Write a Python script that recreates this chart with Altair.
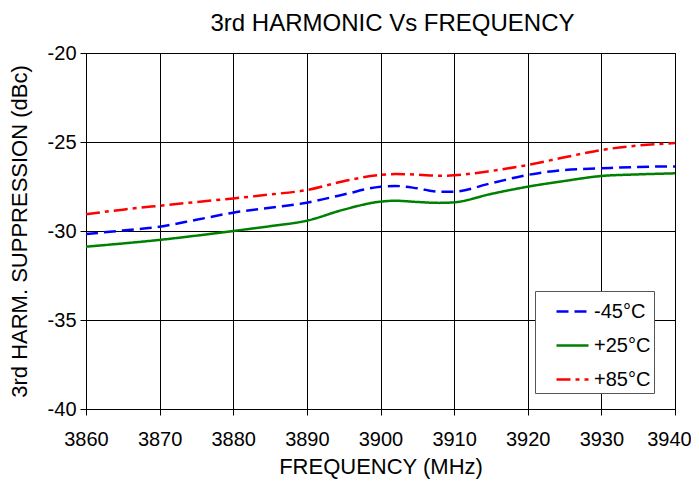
import altair as alt
import pandas as pd

freq = [3860, 3865, 3870, 3875, 3880, 3885, 3890, 3895, 3900, 3902, 3905, 3908, 3910, 3915, 3920, 3925, 3930, 3935, 3940]
m45 = [-30.17, -29.97, -29.76, -29.37, -28.97, -28.69, -28.41, -27.95, -27.51, -27.47, -27.6, -27.8, -27.79, -27.32, -26.85, -26.57, -26.48, -26.4, -26.37]
p25 = [-30.88, -30.7, -30.5, -30.26, -30.0, -29.73, -29.42, -28.8, -28.35, -28.3, -28.37, -28.42, -28.39, -27.92, -27.51, -27.19, -26.91, -26.82, -26.76]
p85 = [-29.06, -28.8, -28.58, -28.37, -28.17, -27.95, -27.7, -27.2, -26.85, -26.8, -26.83, -26.9, -26.87, -26.63, -26.29, -25.86, -25.45, -25.2, -25.06]
series = ["-45°C", "+25°C", "+85°C"]
colors = ["#0000FF", "#008000", "#FF0000"]
dashes = [[12, 6], [1, 0], [14, 5, 4, 5]]
x_ticks = [3860, 3870, 3880, 3890, 3900, 3910, 3920, 3930, 3940]
y_ticks = [-40, -35, -30, -25, -20]

rows = []
for name, vals in zip(series, [m45, p25, p85]):
    for f, v in zip(freq, vals):
        rows.append({"freq": f, "val": v, "temp": name})
df = pd.DataFrame(rows)

FONT = "Liberation Sans"

chart = alt.Chart(df).mark_line(strokeWidth=2.5, interpolate="monotone").encode(
    x=alt.X("freq:Q", scale=alt.Scale(domain=[3860, 3940], nice=False, zero=False),
            axis=alt.Axis(values=x_ticks, title="FREQUENCY (MHz)", format="d",
                          labelFlush=False, labelOverlap=False,
                          labelOffset=alt.ExprRef("datum.value == 3940 ? -6 : 0"),
                          labelPadding=14, titlePadding=7)),
    y=alt.Y("val:Q", scale=alt.Scale(domain=[-40, -20], nice=False, zero=False),
            axis=alt.Axis(values=y_ticks, title="3rd HARM. SUPPRESSION (dBc)",
                          labelExpr="toString(datum.value)",
                          labelFlush=False, labelOverlap=False,
                          labelPadding=4, titlePadding=16)),
    color=alt.Color("temp:N", scale=alt.Scale(domain=series, range=colors),
                    sort=series,
                    legend=alt.Legend(title=None, orient="none", legendX=449, legendY=238,
                                      symbolType="stroke", symbolSize=1024, symbolStrokeWidth=2.5,
                                      symbolOffset=17, labelOffset=4, padding=3, rowPadding=6,
                                      labelExpr="datum.label + '   '",
                                      strokeColor="#555555", fillColor="white",
                                      labelFontSize=20, labelFont=FONT, labelColor="black")),
    strokeDash=alt.StrokeDash("temp:N", scale=alt.Scale(domain=series, range=dashes),
                              sort=series, legend=None),
).properties(
    width=589, height=356,
    title=alt.TitleParams("3rd HARMONIC Vs FREQUENCY", fontSize=24, font=FONT,
                          fontWeight="normal", color="black", offset=7, dx=12),
    autosize=alt.AutoSizeParams(type="none"),
    padding={"left": 78, "top": 45, "right": 16, "bottom": 70},
).configure_axis(
    grid=True, gridColor="black", gridOpacity=1, gridWidth=1,
    domainColor="black", domainWidth=1, tickColor="black", tickSize=6, tickWidth=1,
    labelFont=FONT, labelFontSize=20, labelColor="black",
    titleFont=FONT, titleFontSize=22, titleFontWeight="normal", titleColor="black",
).configure_view(stroke="black", strokeWidth=1)

chart.save("out.html", embed_options={"renderer": "svg", "actions": False})
